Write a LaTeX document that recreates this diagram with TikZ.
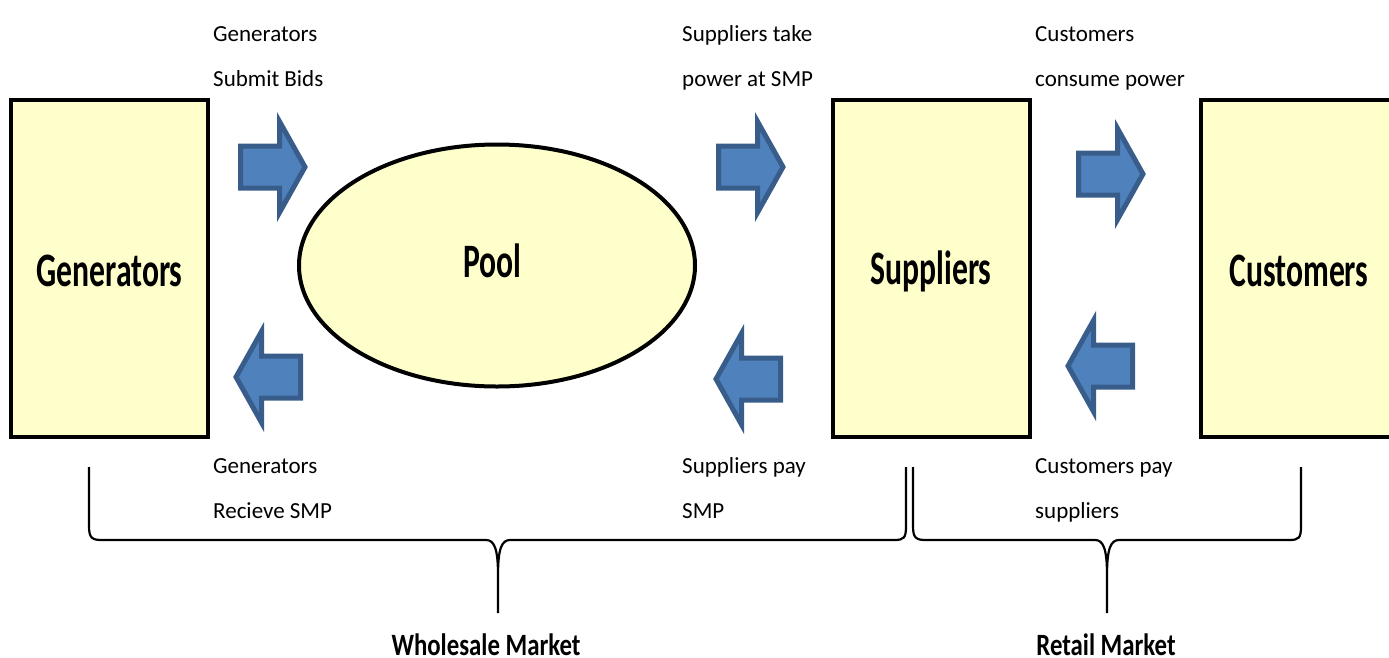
\documentclass[tikz,border=0pt]{standalone}
\usepackage{fontspec}
\setmainfont{Carlito}
\newfontfamily\boxfont[FakeStretch=0.66]{Carlito}
\newfontfamily\mktfont[FakeStretch=0.8]{Carlito}
\usetikzlibrary{shapes.geometric}
\definecolor{boxfill}{HTML}{FFFFCC}
\definecolor{arrowfill}{HTML}{4F81BD}
\definecolor{arrowline}{HTML}{385D8A}
\tikzset{
  party/.style={draw=black, line width=4pt, fill=boxfill, inner sep=0pt,
    minimum width=197pt, minimum height=337pt},
  partytext/.style={inner sep=0pt,
    font=\boxfont\bfseries\fontsize{48}{48}\selectfont},
  pool/.style={draw=black, line width=4pt, fill=boxfill, ellipse, inner sep=0pt,
    minimum width=396pt, minimum height=242pt},
  flowlabel/.style={anchor=base west, align=left, inner sep=0pt,
    font=\fontsize{23}{45}\selectfont},
  market/.style={anchor=base, inner sep=0pt,
    font=\mktfont\bfseries\fontsize{31}{31}\selectfont},
  brace/.style={draw=black, line width=2.2pt, line join=round},
  % block arrow pointing right, tip at the origin
  blockarrow/.pic={
    \draw[fill=arrowfill, draw=arrowline, line width=5pt, line join=miter]
      (-67.5,-21) -- (-28.5,-21) -- (-28.5,-45.5) -- (-3,0)
      -- (-28.5,45.5) -- (-28.5,21) -- (-67.5,21) -- cycle;
  }
}
\begin{document}
\begin{tikzpicture}[x=1pt,y=-1pt]
\clip (0,0) rectangle (1389,657);

% market participants
\node[party] (gen) at (109.5,268.5) {};
\node[pool]  (pool) at (497,265.5) {};
\node[party] (sup) at (931,268.5) {};
\node[party] (cus) at (1299,268.5) {};
\node[partytext] (gent) at ([yshift=-2.5pt]gen.center) {Generators};
\node[partytext] (poolt) at ([xshift=-4.5pt,yshift=4.5pt]pool.center) {Pool};
\node[partytext] (supt) at ([yshift=-2.5pt]sup.center) {Suppliers};
\node[partytext] (cust) at ([yshift=-2.5pt]cus.center) {Customers};

% flows of power (right) and money (left)
\pic at (308,167) {blockarrow};
\pic at (786,167) {blockarrow};
\pic at (1146,174) {blockarrow};
\pic[xscale=-1] at (233,377) {blockarrow};
\pic[xscale=-1] at (713,379) {blockarrow};
\pic[xscale=-1] at (1065,366) {blockarrow};

% flow labels (anchored at the baseline of the second line)
\node[flowlabel] (l1) at (213,86)  {Generators\\Submit Bids};
\node[flowlabel] (l2) at (682,86)  {Suppliers take\\power at SMP};
\node[flowlabel] (l3) at (1035,86) {Customers\\consume power};
\node[flowlabel] (l4) at (213,518) {Generators\\Recieve SMP};
\node[flowlabel] (l5) at (682,518) {Suppliers pay\\SMP};
\node[flowlabel] (l6) at (1035,518) {Customers pay\\suppliers};

% braces grouping the markets
\draw[brace] (89,467) -- (89,526) .. controls (89,538) and (92,540) .. (102,540)
  -- (486,540) .. controls (494,540) and (498,548) .. (498,575) -- (498,613)
  (498,575) .. controls (498,548) and (502,540) .. (510,540)
  -- (894,540) .. controls (904,540) and (906,538) .. (906,526) -- (906,467);
\draw[brace] (913,467) -- (913,526) .. controls (913,538) and (916,540) .. (926,540)
  -- (1095,540) .. controls (1103,540) and (1107,548) .. (1107,575) -- (1107,613)
  (1107,575) .. controls (1107,548) and (1111,540) .. (1119,540)
  -- (1289,540) .. controls (1299,540) and (1301,538) .. (1301,526) -- (1301,467);

\node[market] (whole) at (486,655) {Wholesale Market};
\node[market] (retail) at (1106,655) {Retail Market};
\end{tikzpicture}
\end{document}
